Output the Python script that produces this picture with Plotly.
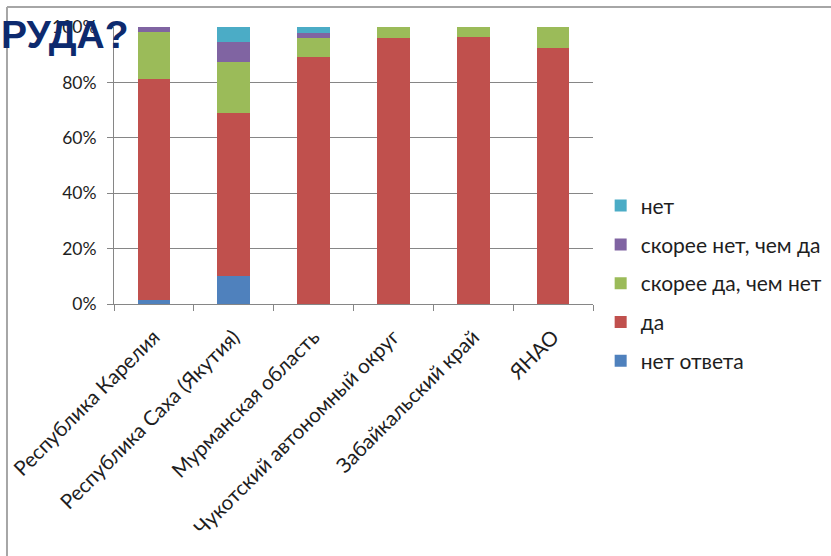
import plotly.graph_objects as go

categories = ["Республика Карелия", "Республика Саха (Якутия)", "Мурманская область",
              "Чукотский автономный округ", "Забайкальский край", "ЯНАО"]
no_answer = [1.5, 10.2, 0, 0, 0, 0]
yes = [79.7, 58.8, 89.0, 96.0, 96.5, 92.4]
rather_yes = [17.0, 18.2, 7.0, 4.0, 3.5, 7.6]
rather_no = [1.8, 7.4, 1.9, 0, 0, 0]
no = [0, 5.4, 2.1, 0, 0, 0]
y_ticks = [0, 20, 40, 60, 80, 100]
y_tick_labels = ["0%", "20%", "40%", "60%", "80%", "100%"]
title_text = "РУДА?"

series = [
    ("нет ответа", no_answer, "#4F81BD", 5),
    ("да", yes, "#C0504D", 4),
    ("скорее да, чем нет", rather_yes, "#9BBB59", 3),
    ("скорее нет, чем да", rather_no, "#8064A2", 2),
    ("нет", no, "#4BACC6", 1),
]

FONT = "Lato"
fig = go.Figure()
for name, vals, color, rank in series:
    fig.add_trace(go.Bar(x=categories, y=vals, name=name, legendgroup=name,
                         legendrank=rank,
                         marker=dict(color=color, line=dict(width=0))))

fig.update_layout(
    barmode="stack",
    bargap=0.59,
    width=831, height=556,
    margin=dict(l=114, r=238, t=27, b=252, autoexpand=False),
    paper_bgcolor="white", plot_bgcolor="white",
    font=dict(family=FONT, size=18, color="#1e1e1e"),
    showlegend=True,
    legend=dict(traceorder="grouped", tracegroupgap=8.5,
                x=1.016, xanchor="left", y=0.428, yanchor="top",
                font=dict(family=FONT, size=21, color="#1e1e1e"),
                itemwidth=30, bgcolor="rgba(0,0,0,0)"),
    xaxis=dict(tickangle=-45, showgrid=False, showline=True, linecolor="#868686",
               linewidth=1, ticks="outside", tickson="boundaries", ticklen=6,
               tickcolor="#868686", ticklabelstandoff=12, automargin=False,
               tickfont=dict(family=FONT, size=20.5, color="#1e1e1e")),
    yaxis=dict(range=[0, 100], tickvals=y_ticks, ticktext=y_tick_labels,
               showgrid=True, gridcolor="#868686", gridwidth=1,
               showline=True, linecolor="#868686", ticks="outside", ticklen=6,
               tickcolor="#868686", zeroline=False, ticklabelstandoff=7, automargin=False,
               tickfont=dict(family=FONT, size=17.5, color="#1e1e1e")),
    shapes=[
        dict(type="line", xref="paper", yref="paper", x0=-0.2234, x1=1.6, y0=1.0722, y1=1.0722,
             line=dict(color="#a6a6a6", width=2)),
        dict(type="line", xref="paper", yref="paper", x0=-0.2234, x1=-0.2234, y0=1.0722, y1=-1.2,
             line=dict(color="#a6a6a6", width=2)),
    ],
    annotations=[
        dict(text="<b>" + title_text + "</b>", xref="paper", yref="paper",
             x=-0.241, y=1.058, xanchor="left", yanchor="top", showarrow=False,
             font=dict(family="Liberation Sans", size=39, color="#0d2a6e")),
    ],
)

fig.write_html("out.html", config={"displayModeBar": False},
               post_script="document.body.style.margin='0';")
